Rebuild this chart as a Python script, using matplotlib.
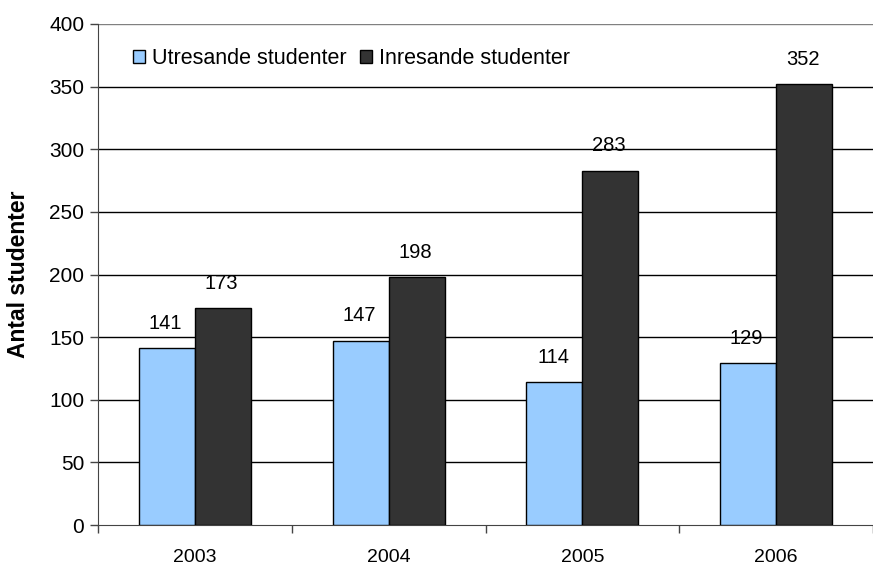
import numpy as np
import matplotlib
matplotlib.use("Agg")
import matplotlib.pyplot as plt

years = ["2003", "2004", "2005", "2006"]
utresande = [141, 147, 114, 129]
inresande = [173, 198, 283, 352]
series_names = ["Utresande studenter", "Inresande studenter"]
yticks = [0, 50, 100, 150, 200, 250, 300, 350, 400]

plt.rcParams["font.family"] = ["Liberation Sans", "DejaVu Sans"]

fig = plt.figure(figsize=(8.73, 5.66), dpi=100)
ax = fig.add_axes([0.1123, 0.0724, 0.8877, 0.8852])

x = np.arange(len(years))
w = 0.289
b1 = ax.bar(x - w / 2, utresande, w, color="#99CCFF", edgecolor="black",
            linewidth=1.0, label=series_names[0], zorder=3)
b2 = ax.bar(x + w / 2, inresande, w, color="#333333", edgecolor="black",
            linewidth=1.0, label=series_names[1], zorder=3)

for bars, vals in [(b1, utresande), (b2, inresande)]:
    for r, v in zip(bars, vals):
        ax.annotate(str(v), (r.get_x() + r.get_width() / 2, v),
                    xytext=(-1, 18), textcoords="offset points",
                    ha="center", va="center", fontsize=14.5)

ax.set_xlim(-0.5, len(years) - 0.5)
ax.set_ylim(0, 400)
ax.set_yticks(yticks)
ax.set_yticklabels([str(t) for t in yticks], fontsize=15)
ax.set_xticks(x)
ax.set_xticklabels(years, fontsize=14)
ax.set_xticks(np.arange(len(years) + 1) - 0.5, minor=True)
ax.tick_params(axis="x", which="major", length=0, pad=17)
ax.tick_params(axis="x", which="minor", length=6, width=1, color="#444444")
ax.tick_params(axis="y", length=6, width=1, color="#444444", pad=4)

for t in yticks[1:]:
    ax.axhline(t, color="#808080" if t == 400 else "black", lw=1, zorder=1)

for s in ["top", "right"]:
    ax.spines[s].set_visible(False)
ax.spines["left"].set_color("#444444")
ax.spines["bottom"].set_color("#444444")

ax.set_ylabel("Antal studenter", fontsize=16.5, fontweight="bold", labelpad=14)

ax.legend(loc="upper left", bbox_to_anchor=(0.02, 0.99), ncol=2, frameon=False,
          fontsize=15.5, handlelength=0.55, handleheight=0.55, handletextpad=0.35,
          columnspacing=0.6)

fig.savefig("out.png", dpi=100)
